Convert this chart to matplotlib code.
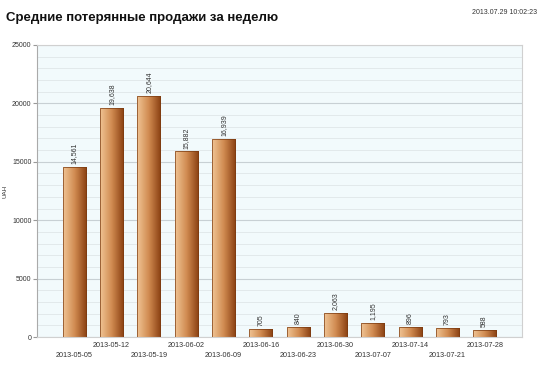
import matplotlib
matplotlib.use('Agg')
import matplotlib.pyplot as plt
import numpy as np
from matplotlib.colors import LinearSegmentedColormap
from matplotlib.ticker import MultipleLocator

# данные
weeks = ['2013-05-05', '2013-05-12', '2013-05-19', '2013-06-02', '2013-06-09',
         '2013-06-16', '2013-06-23', '2013-06-30', '2013-07-07', '2013-07-14',
         '2013-07-21', '2013-07-28']
lost_sales = [14561, 19638, 20644, 15882, 16939, 705, 840, 2063, 1195, 896, 793, 588]

plt.rcParams['font.family'] = ['Liberation Sans', 'DejaVu Sans']

fig = plt.figure(figsize=(5.44, 3.67), dpi=100)
ax = fig.add_axes([37 / 544, 1 - 337 / 367, (522 - 37) / 544, (337 - 45) / 367])
ax.set_facecolor('#f2fafc')

x = np.arange(len(weeks))
bars = ax.bar(x, lost_sales, width=0.62, color='none', edgecolor='#7a3a10',
              linewidth=0.5, zorder=3)

# градиент слева направо
cmap = LinearSegmentedColormap.from_list('bronze', ['#f0c494', '#d08a50', '#8a4012'])
grad = np.linspace(0, 1, 64).reshape(1, -1)
for b in bars:
    x0, y0 = b.get_x(), b.get_y()
    w, h = b.get_width(), b.get_height()
    im = ax.imshow(grad, cmap=cmap, aspect='auto', extent=(x0, x0 + w, y0, y0 + h),
                   zorder=2, interpolation='bicubic')
    im.set_clip_path(b)

for xi, v in zip(x, lost_sales):
    ax.text(xi, v + 250, f'{v:,}', rotation=90, ha='center', va='bottom',
            fontsize=5, color='#333333')

ax.set_xlim(-1, len(weeks))
ax.set_ylim(0, 25000)
ax.yaxis.set_major_locator(MultipleLocator(5000))
ax.yaxis.set_minor_locator(MultipleLocator(1000))
ax.grid(which='major', axis='y', color='#c8d0d4', linewidth=0.8, zorder=1)
ax.grid(which='minor', axis='y', color='#e0e6e8', linewidth=0.6, zorder=1)
ax.tick_params(axis='y', which='major', labelsize=5, length=3, color='#999999',
               labelcolor='#333333', pad=1)
ax.tick_params(axis='y', which='minor', length=0)

ax.set_xticks(x)
ax.set_xticklabels([])
ax.tick_params(axis='x', length=0)
for i, w in enumerate(weeks):
    yoff = -0.018 if i % 2 == 1 else -0.052
    ax.text(i, yoff, w, transform=ax.get_xaxis_transform(), ha='center', va='top',
            fontsize=5.2, color='#333333')

for s in ax.spines.values():
    s.set_color('#d0d0d0')
    s.set_linewidth(0.8)
ax.spines['left'].set_color('#aaaaaa')

fig.text(5 / 544, 1 - 191 / 367, 'UAH', rotation=90, fontsize=4.5, color='#333333',
         ha='center', va='center')

fig.text(6 / 544, 1 - 18 / 367, 'Средние потерянные продажи за неделю',
         fontsize=9.5, fontweight='bold', ha='left', va='center', color='#111111')
fig.text(537 / 544, 1 - 13 / 367, '2013.07.29 10:02:23', fontsize=5,
         ha='right', va='center', color='#333333')

fig.savefig('out.png', dpi=100, facecolor='white')
